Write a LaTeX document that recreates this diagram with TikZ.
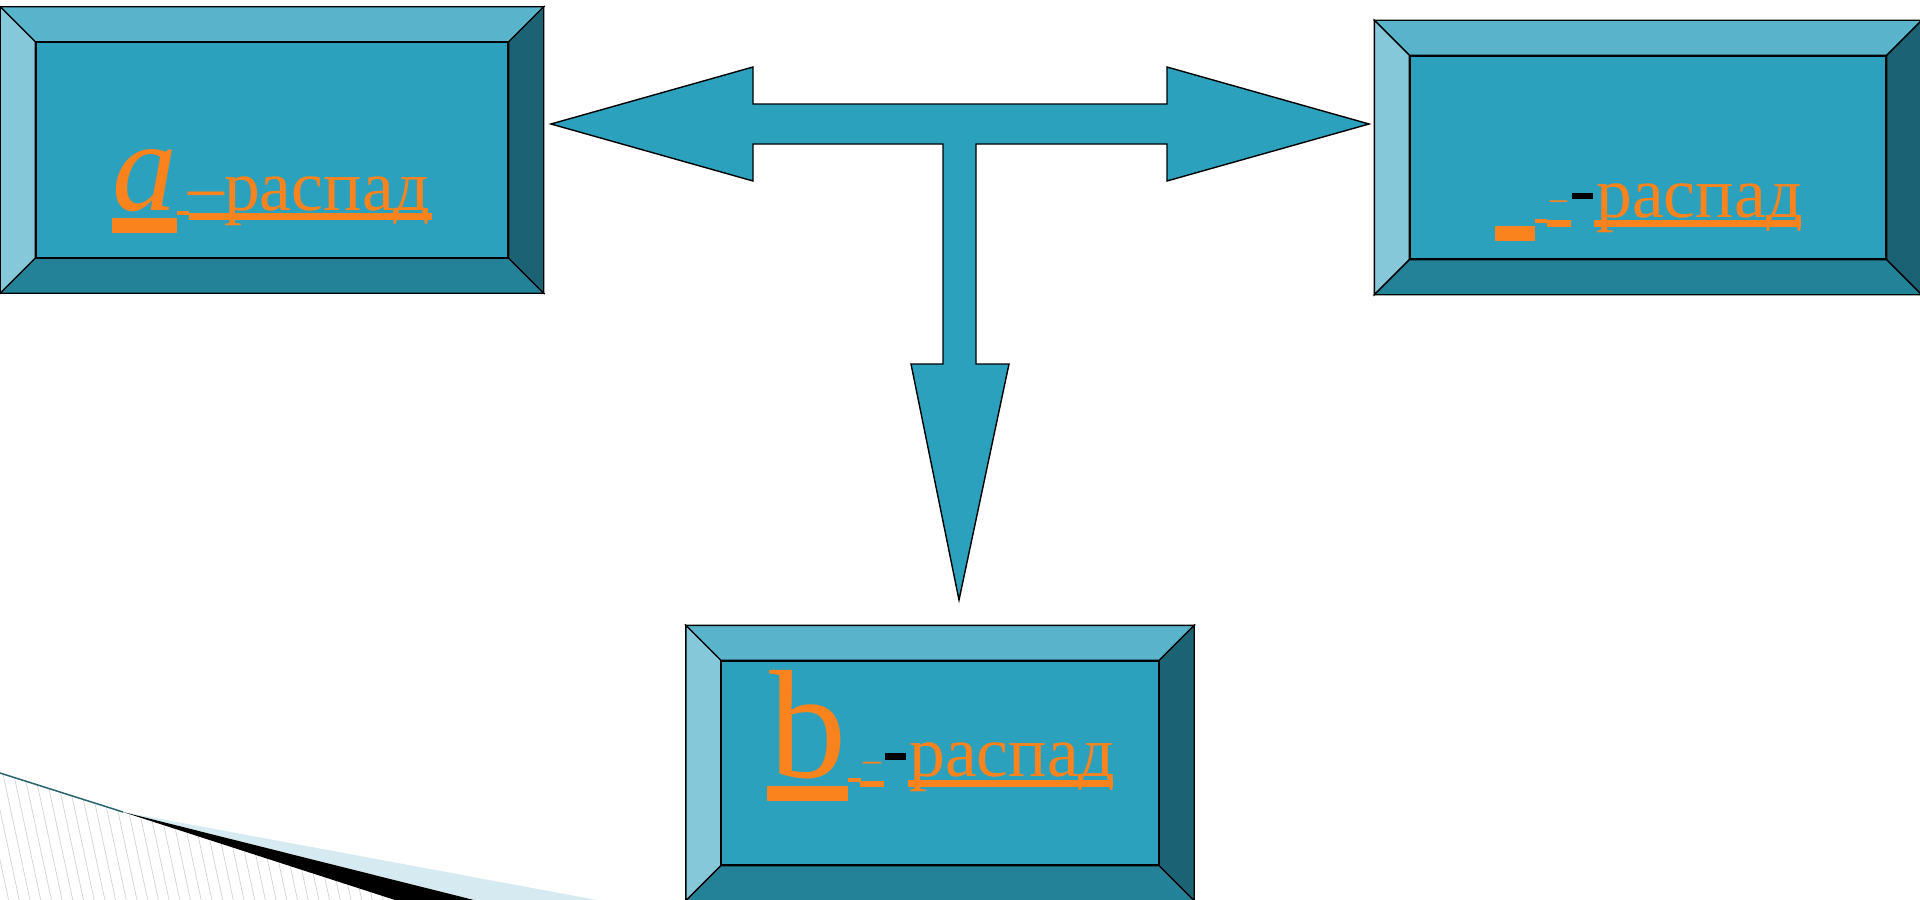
\documentclass[tikz,border=0pt]{standalone}
\usepackage{fontspec}
\setmainfont{Liberation Serif}
\usepackage{tikz}
\usetikzlibrary{calc}

\definecolor{faceblue}{RGB}{44,161,190}
\definecolor{bevtop}{RGB}{89,179,203}
\definecolor{bevleft}{RGB}{133,200,217}
\definecolor{bevbottom}{RGB}{35,130,151}
\definecolor{bevright}{RGB}{27,99,116}
\definecolor{txtorange}{RGB}{250,131,30}
\definecolor{paleblue}{RGB}{214,234,242}
\definecolor{tealline}{RGB}{40,100,110}

% four bevels round the inner face node #1
\newcommand{\bevelframe}[1]{%
  \coordinate (#1-onw) at ($(#1.north west)+(-35,-35)$);
  \coordinate (#1-one) at ($(#1.north east)+(35,-35)$);
  \coordinate (#1-osw) at ($(#1.south west)+(-35,35)$);
  \coordinate (#1-ose) at ($(#1.south east)+(35,35)$);
  \draw[bevel, fill=bevtop] (#1-onw) -- (#1-one) -- (#1.north east) -- (#1.north west) -- cycle;
  \draw[bevel, fill=bevleft] (#1-onw) -- (#1.north west) -- (#1.south west) -- (#1-osw) -- cycle;
  \draw[bevel, fill=bevbottom] (#1-osw) -- (#1.south west) -- (#1.south east) -- (#1-ose) -- cycle;
  \draw[bevel, fill=bevright] (#1-one) -- (#1-ose) -- (#1.south east) -- (#1.north east) -- cycle;
}

\begin{document}
\begin{tikzpicture}[
    x=1bp, y=-1bp,
    face/.style={rectangle, draw=black, fill=faceblue, line width=1.4bp, inner sep=0pt},
    bevel/.style={draw=black, line width=1.4bp, line join=miter},
    block arrow/.style={draw=black, fill=faceblue, line width=1.4bp, line join=miter},
    word/.style={inner sep=0pt, anchor=base west, text=txtorange},
    ubar/.style={fill=txtorange},
    hatch/.style={draw=gray!35, line width=0.7bp}
]
\useasboundingbox (0,0) rectangle (1920,900);

% --- corner decoration, bottom left ---
\begin{scope}
  \clip (0,773) -- (395,900) -- (0,900) -- cycle;
  \foreach \i in {-3,...,40} {
    \draw[hatch] (\i*10.7,760) -- (\i*10.7+30,900);
  }
\end{scope}
\fill[paleblue] (123,812) -- (597,900) -- (474,900) -- cycle;
\fill[black] (123,812) -- (474,900) -- (395,900) -- cycle;
\draw[tealline, line width=1.5bp] (0,773) -- (123,812);

% --- three-way block arrow ---
\draw[block arrow] (551,124) -- (753,67) -- (753,104) -- (1167,104) -- (1167,67)
  -- (1369,124) -- (1167,181) -- (1167,144) -- (976,144) -- (976,364)
  -- (1009,364) -- (959,600) -- (911,364) -- (943,364) -- (943,144)
  -- (753,144) -- (753,181) -- cycle;

% --- bevelled boxes ---
\node[face, minimum width=472bp, minimum height=215bp] (alphabox) at (272,150) {};
\bevelframe{alphabox}
\node[face, minimum width=476bp, minimum height=203bp] (gammabox) at (1648,157.5) {};
\bevelframe{gammabox}
\node[face, minimum width=437bp, minimum height=204bp] (betabox) at (940,763) {};
\bevelframe{betabox}

% --- left box text ---
\node[word] (alpha) at (112,210) {\fontsize{130}{130}\selectfont\itshape a};
\fill[ubar] (112,218) rectangle (177,233);
\fill[ubar] (177,211) rectangle (189,215);
\node[word] (alphaword) at (188,210) {\fontsize{72}{80}\selectfont –распад};
\fill[ubar] (189,213) rectangle (432,220);

% --- right box text ---
\fill[ubar] (1495,226) rectangle (1535,241);
\fill[ubar] (1535,219) rectangle (1547,223);
\fill[ubar] (1547,220) rectangle (1571,227);
\node[word] (gammadash) at (1550,209) {\fontsize{34}{40}\selectfont –};
\fill[black] (1572,193) rectangle (1593,199);
\node[word] (gammaword) at (1596,217) {\fontsize{72}{80}\selectfont распад};
\fill[ubar] (1594,220) rectangle (1801,227);

% --- bottom box text ---
\node[word] (beta) at (769,777) {\fontsize{155}{155}\selectfont b};
\fill[ubar] (767,786) rectangle (848,801);
\fill[ubar] (848,778) rectangle (861,782);
\fill[ubar] (860,781) rectangle (884,787);
\node[word] (betadash) at (863,771) {\fontsize{36}{40}\selectfont –};
\fill[black] (885,753) rectangle (906,760);
\node[word] (betaword) at (909,776) {\fontsize{72}{80}\selectfont распад};
\fill[ubar] (908,780) rectangle (1113,787);

\end{tikzpicture}
\end{document}
